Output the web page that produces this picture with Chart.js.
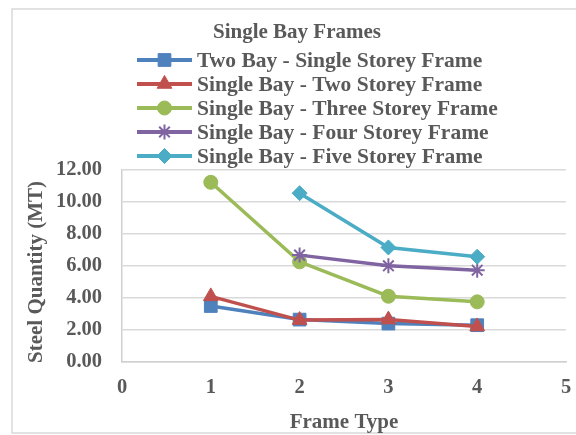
<!DOCTYPE html>
<html>
<head>
<meta charset="utf-8">
<script src="https://cdn.jsdelivr.net/npm/chart.js@4/dist/chart.umd.min.js"></script>
<style>
  html, body { margin: 0; padding: 0; background: #ffffff; }
  #wrap { width: 576px; height: 435px; }
</style>
</head>
<body>
<div id="wrap"><canvas id="c" width="576" height="435"></canvas></div>
<script>
// Frame types on the x axis
const frameTypes = [1, 2, 3, 4];

// Steel quantity (MT) per frame type; null where a frame type was not analysed
const twoBaySingleStorey   = [3.50, 2.65, 2.40, 2.30];
const singleBayTwoStorey   = [4.10, 2.62, 2.65, 2.22];
const singleBayThreeStorey = [11.23, 6.26, 4.11, 3.76];
const singleBayFourStorey  = [null, 6.68, 6.01, 5.74];
const singleBayFiveStorey  = [null, 10.55, 7.16, 6.58];

const seriesNames = [
  'Two Bay - Single Storey Frame',
  'Single Bay - Two Storey Frame',
  'Single Bay - Three Storey Frame',
  'Single Bay - Four Storey Frame',
  'Single Bay - Five Storey Frame'
];
const legendTitle = 'Single Bay Frames';
const xTitle = 'Frame Type';
const yTitle = 'Steel Quantity (MT)';

const TEXT = '#595959';
const GRID = '#d9d9d9';
const FONT = '"Liberation Serif", "Times New Roman", serif';

function points(values) {
  return frameTypes.map((x, i) => ({ x: x, y: values[i] }))
                   .filter(p => p.y !== null);
}

function series(label, values, color, style, radius, borderW, order) {
  return {
    label: label,
    data: points(values),
    borderColor: color,
    backgroundColor: color,
    borderWidth: 3.5,
    pointStyle: style,
    pointRadius: radius,
    pointHoverRadius: radius,
    pointBackgroundColor: color,
    pointBorderColor: color,
    pointBorderWidth: borderW,
    tension: 0,
    order: order
  };
}

// white page with a thin grey frame round the whole chart
const framePlugin = {
  id: 'pageFrame',
  beforeDraw(chart) {
    const ctx = chart.ctx;
    ctx.save();
    ctx.fillStyle = '#ffffff';
    ctx.fillRect(0, 0, chart.width, chart.height);
    ctx.strokeStyle = '#d9d9d9';
    ctx.lineWidth = 1.5;
    ctx.strokeRect(12, 9, 600, 424);
    ctx.restore();
  }
};

// key above the plot (title, then line + marker + name per series)
// and the rotated value-axis title
const keyPlugin = {
  id: 'seriesKey',
  afterDraw(chart) {
    const ctx = chart.ctx;
    ctx.save();
    ctx.font = 'bold 21px ' + FONT;
    ctx.fillStyle = TEXT;
    ctx.textAlign = 'center';
    ctx.textBaseline = 'middle';
    ctx.fillText(legendTitle, 297, 33);

    ctx.font = 'bold 21.5px ' + FONT;
    chart.data.datasets.forEach((ds, i) => {
      const y = 60 + i * 24;
      ctx.strokeStyle = ds.borderColor;
      ctx.lineWidth = 4;
      ctx.beginPath();
      ctx.moveTo(137, y);
      ctx.lineTo(192, y);
      ctx.stroke();
      ctx.fillStyle = ds.pointBackgroundColor;
      ctx.strokeStyle = ds.pointBorderColor;
      ctx.lineWidth = ds.pointBorderWidth;
      Chart.helpers.drawPoint(ctx, {
        pointStyle: ds.pointStyle,
        radius: ds.pointRadius,
        borderWidth: ds.pointBorderWidth,
        rotation: 0
      }, 164.5, y);
      ctx.fillStyle = TEXT;
      ctx.textAlign = 'left';
      ctx.textBaseline = 'middle';
      ctx.fillText(ds.label, 197, y + 1);
    });

    ctx.translate(37, 272);
    ctx.rotate(-Math.PI / 2);
    ctx.font = 'bold 21px ' + FONT;
    ctx.textAlign = 'center';
    ctx.textBaseline = 'middle';
    ctx.fillStyle = TEXT;
    ctx.fillText(yTitle, 0, 0);
    ctx.restore();
  }
};

new Chart(document.getElementById('c'), {
  type: 'line',
  data: {
    datasets: [
      series(seriesNames[0], twoBaySingleStorey,   '#4f81bd', 'rect',     9,   1, 5),
      series(seriesNames[1], singleBayTwoStorey,   '#c0504d', 'triangle', 8.5, 1, 4),
      series(seriesNames[2], singleBayThreeStorey, '#9bbb59', 'circle',   7,   1, 3),
      series(seriesNames[3], singleBayFourStorey,  '#8064a2', 'star',     7.5, 2, 2),
      series(seriesNames[4], singleBayFiveStorey,  '#4bacc6', 'rectRot',  7.5, 1, 1)
    ]
  },
  options: {
    responsive: false,
    devicePixelRatio: 1,
    animation: false,
    layout: { padding: { left: 0, top: 170, right: 9, bottom: 0 } },
    plugins: {
      legend: { display: false },
      tooltip: { enabled: false },
      title: { display: false }
    },
    scales: {
      x: {
        type: 'linear',
        min: 0,
        max: 5,
        ticks: {
          stepSize: 1,
          padding: 13,
          color: TEXT,
          font: { family: FONT, size: 20.5, weight: 'bold' }
        },
        grid: { display: false, drawTicks: false },
        border: { display: true, color: '#d0d0d0', width: 1.5 },
        title: {
          display: true,
          text: xTitle,
          color: TEXT,
          font: { family: FONT, size: 21, weight: 'bold' },
          padding: { top: 0, bottom: 0 }
        },
        afterFit(scale) {
          scale.height = 73;
          scale.paddingLeft = 0;
          scale.paddingRight = 0;
        }
      },
      y: {
        min: 0,
        max: 12,
        ticks: {
          stepSize: 2,
          padding: 20,
          color: TEXT,
          font: { family: FONT, size: 20.5, weight: 'bold' },
          callback: v => Number(v).toFixed(2)
        },
        grid: { color: GRID, lineWidth: 1.5, drawTicks: false },
        border: { display: true, color: '#d0d0d0', width: 1.5 },
        title: { display: false },
        afterFit(scale) {
          scale.width = 122;
          scale.paddingTop = 0;
          scale.paddingBottom = 0;
        }
      }
    }
  },
  plugins: [framePlugin, keyPlugin]
});
</script>
</body>
</html>
